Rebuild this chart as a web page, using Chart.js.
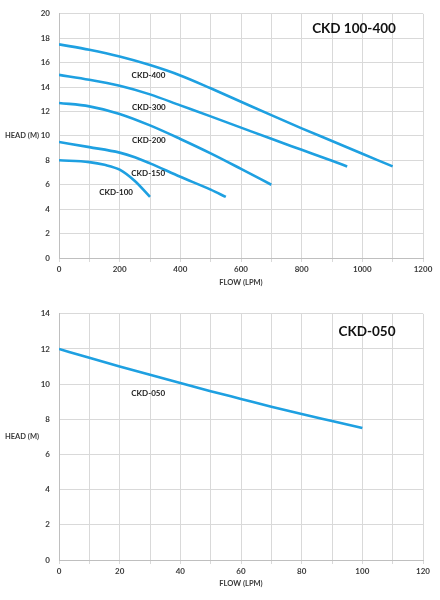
<!DOCTYPE html>
<html>
<head>
<meta charset="utf-8">
<script src="https://cdn.jsdelivr.net/npm/chart.js@4/dist/chart.umd.min.js"></script>
<style>
  html, body { margin: 0; padding: 0; background: #ffffff; }
  #wrap { position: relative; width: 440px; height: 600px; }
  .box { position: absolute; left: 0; width: 440px; height: 300px; }
</style>
</head>
<body>
<div id="wrap">
  <div class="box" style="top:0"><canvas id="c1"></canvas></div>
  <div class="box" style="top:300px"><canvas id="c2"></canvas></div>
</div>
<script>
// ---------- DATA ----------
const flowsTop = [0, 100, 200, 300, 400, 500, 600, 700, 800, 900, 1000, 1100];
const ckd400 = [17.5, 17.05, 16.5, 15.8, 14.95, 13.9, 12.8, 11.7, 10.62, 9.58, 8.54, 7.5];
const ckd300Flow = [0, 100, 200, 300, 400, 500, 600, 700, 800, 900, 950];
const ckd300 = [15.0, 14.6, 14.1, 13.4, 12.5, 11.6, 10.68, 9.76, 8.86, 7.96, 7.5];
const ckd200Flow = [0, 100, 200, 300, 400, 500, 600, 700];
const ckd200 = [12.7, 12.42, 11.8, 10.86, 9.75, 8.57, 7.3, 6.0];
const ckd150Flow = [0, 100, 200, 250, 300, 400, 500, 550];
const ckd150 = [9.5, 9.08, 8.63, 8.25, 7.75, 6.65, 5.6, 5.0];
const ckd100Flow = [0, 100, 150, 200, 250, 300];
const ckd100 = [8.0, 7.85, 7.63, 7.23, 6.3, 5.0];

const flowsBottom = [0, 10, 20, 30, 40, 50, 60, 70, 80, 90, 100];
const ckd050 = [12.0, 11.5, 11.01, 10.53, 10.06, 9.6, 9.16, 8.72, 8.3, 7.9, 7.5];

const topXTicks = [0, 200, 400, 600, 800, 1000, 1200];
const topYTicks = [0, 2, 4, 6, 8, 10, 12, 14, 16, 18, 20];
const bottomXTicks = [0, 20, 40, 60, 80, 100, 120];
const bottomYTicks = [0, 2, 4, 6, 8, 10, 12, 14];

const topTitle = 'CKD 100-400';
const bottomTitle = 'CKD-050';
const xTitle = 'FLOW (LPM)';
const yTitle = 'HEAD (M)';

// curve labels (data coordinates)
const topCurveLabels = [
  { text: 'CKD-400', x: 295, y: 14.94 },
  { text: 'CKD-300', x: 296, y: 12.34 },
  { text: 'CKD-200', x: 296, y: 9.6 },
  { text: 'CKD-150', x: 294, y: 6.96 },
  { text: 'CKD-100', x: 188, y: 5.35 }
];
const bottomCurveLabels = [
  { text: 'CKD-050', x: 29.4, y: 9.49 }
];

// ---------- STYLE ----------
const LINE = 'rgb(30,160,225)';
const GRID = '#d9d9d9';
const TEXT = '#3a3a3a';
const FONT = 'Lato, "Liberation Sans", sans-serif';

function pts(xs, ys) { return xs.map((x, i) => ({ x: x, y: ys[i] })); }

function ds(label, xs, ys) {
  return {
    label: label,
    data: pts(xs, ys),
    borderColor: LINE,
    borderWidth: 2.6,
    pointRadius: 0,
    fill: false,
    cubicInterpolationMode: 'monotone'
  };
}

const decorPlugin = {
  id: 'decor',
  afterDatasetsDraw(chart, args, opts) {
    const ctx = chart.ctx;
    const area = chart.chartArea;
    const xs = chart.scales.x, ys = chart.scales.y;
    ctx.save();
    // big title
    ctx.fillStyle = '#111';
    ctx.font = 'bold 13.5px ' + FONT;
    ctx.textAlign = 'center';
    ctx.textBaseline = 'middle';
    ctx.fillText(opts.title, area.right - opts.titleDx, area.top + opts.titleDy);
    // curve labels
    ctx.fillStyle = '#222';
    ctx.font = 'bold 8px ' + FONT;
    opts.labels.forEach(l => {
      ctx.fillText(l.text, xs.getPixelForValue(l.x), ys.getPixelForValue(l.y));
    });
    // horizontal y title
    ctx.fillStyle = TEXT;
    ctx.font = 'bold 7.5px ' + FONT;
    ctx.textAlign = 'left';
    ctx.fillText(yTitle, 5, (area.top + area.bottom) / 2);
    ctx.restore();
  }
};

function makeChart(id, datasets, xMax, xStep, xLabelTicks, yMax, yLabelTicks, topPad, xAxisH, titlePadBottom, title, titleDx, titleDy, labels) {
  return new Chart(document.getElementById(id), {
    type: 'line',
    data: { datasets: datasets },
    plugins: [decorPlugin],
    options: {
      responsive: true,
      maintainAspectRatio: false,
      animation: false,
      events: [],
      layout: { padding: { left: 0, right: 17, top: topPad, bottom: 0 } },
      plugins: {
        legend: { display: false },
        tooltip: { enabled: false },
        decor: { title: title, titleDx: titleDx, titleDy: titleDy, labels: labels }
      },
      scales: {
        x: {
          type: 'linear',
          min: 0, max: xMax,
          afterFit(s) { s.height = xAxisH; },
          ticks: {
            stepSize: xStep,
            autoSkip: false,
            maxRotation: 0,
            padding: 3,
            color: TEXT,
            font: { family: FONT, size: 8, weight: 'bold' },
            callback: (v) => xLabelTicks.includes(v) ? String(v) : ''
          },
          grid: { color: GRID, lineWidth: 1, tickLength: 4, drawTicks: true },
          border: { color: '#bfbfbf', width: 1 },
          title: {
            display: true, text: xTitle, color: TEXT,
            font: { family: FONT, size: 7.5, weight: 'bold' },
            padding: { top: 0, bottom: titlePadBottom }
          }
        },
        y: {
          type: 'linear',
          min: 0, max: yMax,
          afterFit(s) { s.width = 59; },
          ticks: {
            stepSize: 2,
            padding: 9,
            color: TEXT,
            font: { family: FONT, size: 8, weight: 'bold' },
            callback: (v) => yLabelTicks.includes(v) ? String(v) : ''
          },
          grid: { color: GRID, lineWidth: 1, drawTicks: false },
          border: { color: '#bfbfbf', width: 1 }
        }
      }
    }
  });
}

makeChart('c1', [
  ds('CKD-400', flowsTop, ckd400),
  ds('CKD-300', ckd300Flow, ckd300),
  ds('CKD-200', ckd200Flow, ckd200),
  ds('CKD-150', ckd150Flow, ckd150),
  ds('CKD-100', ckd100Flow, ckd100)
], 1200, 100, topXTicks, 20, topYTicks, 10, 42, 13, topTitle, 69, 15, topCurveLabels);

makeChart('c2', [
  ds('CKD-050', flowsBottom, ckd050)
], 120, 10, bottomXTicks, 14, bottomYTicks, 12, 40, 12, bottomTitle, 56, 18, bottomCurveLabels);
</script>
</body>
</html>
